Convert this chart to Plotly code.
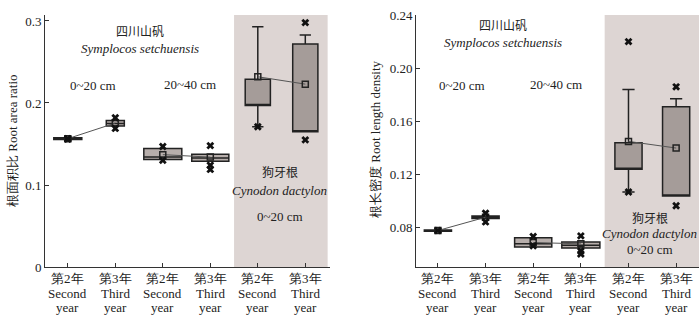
import plotly.graph_objects as go
from plotly.subplots import make_subplots

positions = [0, 1, 2, 3, 4, 5]
tick_line1 = ["第2年", "第3年", "第2年", "第3年", "第2年", "第3年"]
tick_line2 = ["Second", "Third", "Second", "Third", "Second", "Third"]
tick_line3 = ["year", "year", "year", "year", "year", "year"]

# Left panel: Root area ratio
left_q1 = [0.1555, 0.1720, 0.1310, 0.1290, 0.1970, 0.1650]
left_median = [0.1565, 0.1750, 0.1340, 0.1330, 0.1970, 0.1650]
left_q3 = [0.1575, 0.1785, 0.1445, 0.1375, 0.2290, 0.2720]
left_lower = [0.1555, 0.1720, 0.1310, 0.1290, 0.1710, 0.1650]
left_upper = [0.1575, 0.1785, 0.1445, 0.1375, 0.2930, 0.2830]
left_mean = [0.1565, 0.1755, 0.1370, 0.1340, 0.2320, 0.2230]
left_width = [0.59, 0.38, 0.80, 0.78, 0.53, 0.53]
left_out_pos = [0, 0, 1, 1, 2, 2, 3, 3, 3, 4, 5, 5]
left_out_val = [0.1565, 0.1560, 0.1820, 0.1690, 0.1470, 0.1300, 0.1480, 0.1240, 0.1190, 0.1710, 0.2980, 0.1550]

# Right panel: Root length density
right_q1 = [0.0775, 0.0870, 0.0657, 0.0649, 0.1240, 0.1040]
right_median = [0.0780, 0.0880, 0.0680, 0.0670, 0.1240, 0.1040]
right_q3 = [0.0785, 0.0890, 0.0725, 0.0694, 0.1440, 0.1710]
right_lower = [0.0775, 0.0870, 0.0657, 0.0649, 0.1070, 0.1040]
right_upper = [0.0785, 0.0890, 0.0725, 0.0694, 0.1840, 0.1770]
right_mean = [0.0780, 0.0880, 0.0690, 0.0680, 0.1450, 0.1400]
right_width = [0.57, 0.57, 0.78, 0.80, 0.57, 0.57]
right_out_pos = [0, 1, 1, 2, 2, 3, 3, 3, 4, 4, 5, 5]
right_out_val = [0.0780, 0.0910, 0.0845, 0.0735, 0.0665, 0.0740, 0.0626, 0.0604, 0.2200, 0.1070, 0.1860, 0.0966]

FONT = "Liberation Serif"
CJK = "Noto Sans CJK SC"
BOX_FILL = ["#b7aeab", "#b7aeab", "#b7aeab", "#b7aeab", "#a59c99", "#a59c99"]
SHADE = "#ddd5d3"

fig = make_subplots(rows=1, cols=2)

def add_panel(col, q1, med, q3, lo, up, mean, width, opos, oval):
    for i, p in enumerate(positions):
        fig.add_trace(go.Box(
            x=[p], q1=[q1[i]], median=[med[i]], q3=[q3[i]],
            lowerfence=[lo[i]], upperfence=[up[i]],
            width=width[i], whiskerwidth=0.45,
            fillcolor=BOX_FILL[i], line=dict(color="#222222", width=1.5),
            boxpoints=False, showlegend=False, hoverinfo="skip"),
            row=1, col=col)
    for a, b in [(0, 1), (2, 3), (4, 5)]:
        fig.add_trace(go.Scatter(
            x=[positions[a], positions[b]], y=[mean[a], mean[b]],
            mode="lines", line=dict(color="#555555", width=1),
            showlegend=False, hoverinfo="skip"), row=1, col=col)
    fig.add_trace(go.Scatter(
        x=positions, y=mean, mode="markers",
        marker=dict(symbol="square-open", size=6, color="#222222", line=dict(width=1.5)),
        showlegend=False, hoverinfo="skip"), row=1, col=col)
    fig.add_trace(go.Scatter(
        x=opos, y=oval, mode="markers",
        marker=dict(symbol="x", size=7, color="#111111"),
        showlegend=False, hoverinfo="skip"), row=1, col=col)

add_panel(1, left_q1, left_median, left_q3, left_lower, left_upper, left_mean, left_width, left_out_pos, left_out_val)
add_panel(2, right_q1, right_median, right_q3, right_lower, right_upper, right_mean, right_width, right_out_pos, right_out_val)

# shaded backgrounds
fig.add_shape(type="rect", xref="x", yref="y domain", x0=3.5, x1=5.47, y0=0, y1=1,
              fillcolor=SHADE, line=dict(width=0), layer="below")
fig.add_shape(type="rect", xref="x2", yref="y2 domain", x0=3.5, x1=5.48, y0=0, y1=1,
              fillcolor=SHADE, line=dict(width=0), layer="below")

ydom = [49 / 316, 301 / 316]
axis_common = dict(showgrid=False, zeroline=False, showline=True, linecolor="#333333",
                   linewidth=1, automargin=False,
                   tickfont=dict(family=FONT, size=13, color="#222222"))
fig.update_xaxes(**axis_common, tickmode="array", tickvals=positions, showticklabels=False,
                 ticks="inside", ticklen=4, tickcolor="#333333")
fig.update_xaxes(domain=[45 / 700, 330 / 700], range=[-0.48, 5.52], row=1, col=1)
fig.update_xaxes(domain=[416 / 700, 699 / 700], range=[-0.46, 5.48], row=1, col=2)
fig.update_yaxes(**axis_common, ticks="inside", ticklen=4, tickcolor="#333333", domain=ydom)
fig.update_yaxes(range=[0, 0.3073], tickvals=[0, 0.1, 0.2, 0.3], ticktext=["0", "0.1", "0.2", "0.3"], row=1, col=1)
fig.update_yaxes(range=[0.0506, 0.24], tickvals=[0.08, 0.12, 0.16, 0.20, 0.24],
                 ticktext=["0.08", "0.12", "0.16", "0.20", "0.24"], row=1, col=2)

def ann(text, x, y, xref, yref, italic=False, size=13, family=FONT, **kw):
    fig.add_annotation(text=text, x=x, y=y, xref=xref, yref=yref, showarrow=False,
                       xanchor=kw.pop("xanchor", "center"), yanchor=kw.pop("yanchor", "middle"),
                       font=dict(family=family, size=size, color="#222222",
                                 style="italic" if italic else "normal"), **kw)

# x tick labels (three lines each)
for xr in ["x", "x2"]:
    for i, p in enumerate(positions):
        ann(tick_line1[i], p, (316 - 278) / 316, xr, "paper")
        ann(tick_line2[i], p, (316 - 293) / 316, xr, "paper")
        ann(tick_line3[i], p, (316 - 307) / 316, xr, "paper")

# left annotations
ann("四川山矾", 1.52, 0.289, "x", "y", family=CJK, size=12)
ann("Symplocos setchuensis", 1.52, 0.267, "x", "y", italic=True)
ann("0~20 cm", 0.53, 0.221, "x", "y")
ann("20~40 cm", 2.57, 0.223, "x", "y")
ann("狗牙根", 4.46, 0.116, "x", "y", family=CJK, size=12)
ann("Cynodon dactylon", 4.46, 0.093, "x", "y", italic=True)
ann("0~20 cm", 4.46, 0.061, "x", "y")
# right annotations
ann("四川山矾", 1.37, 0.2330, "x2", "y2", family=CJK, size=12)
ann("Symplocos setchuensis", 1.37, 0.2193, "x2", "y2", italic=True)
ann("0~20 cm", 0.5, 0.187, "x2", "y2")
ann("20~40 cm", 2.48, 0.188, "x2", "y2")
ann("狗牙根", 4.45, 0.0880, "x2", "y2", family=CJK, size=12)
ann("Cynodon dactylon", 4.45, 0.0755, "x2", "y2", italic=True)
ann("0~20 cm", 4.45, 0.0634, "x2", "y2")
# axis titles
ann("根面积比 Root area ratio", 12 / 700, (316 - 141) / 316, "paper", "paper", textangle=-90)
ann("根长密度 Root length density", 375 / 700, (316 - 139) / 316, "paper", "paper", textangle=-90)

fig.update_layout(width=700, height=316, margin=dict(l=0, r=0, t=0, b=0),
                  paper_bgcolor="white", plot_bgcolor="white", boxmode="overlay",
                  font=dict(family=FONT))
fig.write_html("out.html", config={"displayModeBar": False},
               post_script="document.body.style.margin='0';")
